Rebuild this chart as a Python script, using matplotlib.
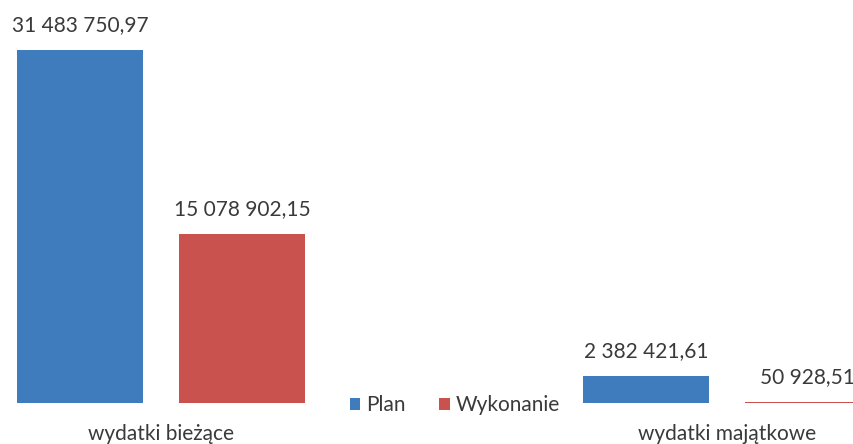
import matplotlib.pyplot as plt
import numpy as np

# data
categories = ["wydatki bieżące", "wydatki majątkowe"]
series = ["Plan", "Wykonanie"]
plan = [31483750.97, 2382421.61]
wykonanie = [15078902.15, 50928.51]
plan_labels = ["31 483 750,97", "2 382 421,61"]
wyk_labels = ["15 078 902,15", "50 928,51"]

colors = ["#3E7CBD", "#C9524E"]
text_color = "#3a3a3a"

plt.rcParams["font.family"] = ["Lato", "DejaVu Sans"]

fig = plt.figure(figsize=(8.54, 4.44), dpi=100)
ax = fig.add_axes([0, 41 / 444, 1, 403 / 444])

x = np.arange(len(categories))
width = 0.2226
offset = 0.143

b1 = ax.bar(x - offset, plan, width, color=colors[0], label=series[0])
b2 = ax.bar(x + offset, wykonanie, width, color=colors[1], label=series[1])

for bars, labels in [(b1, plan_labels), (b2, wyk_labels)]:
    for rect, lab in zip(bars, labels):
        ax.annotate(lab, (rect.get_x() + rect.get_width() / 2, rect.get_height()),
                    xytext=(0, 11), textcoords="offset points",
                    ha="center", va="bottom", fontsize=15, color=text_color)

ax.set_xlim(-0.2845, 1.2244)
ax.set_ylim(0, plan[0] * 403 / 353)
ax.axis("off")

# category labels below bars
for xi, cat in zip(x, categories):
    fig.text((161 + 566 * xi) / 854, 4 / 444, cat, ha="center", va="baseline",
             fontsize=15, color=text_color)

fig.legend(handles=[b1, b2], loc="center", bbox_to_anchor=(455 / 854, 1 - 405 / 444),
           ncol=2, frameon=False, fontsize=15, handlelength=0.5, handleheight=0.5,
           handletextpad=0.3, columnspacing=1.6, labelcolor=text_color)

fig.savefig("out.png", dpi=100)
